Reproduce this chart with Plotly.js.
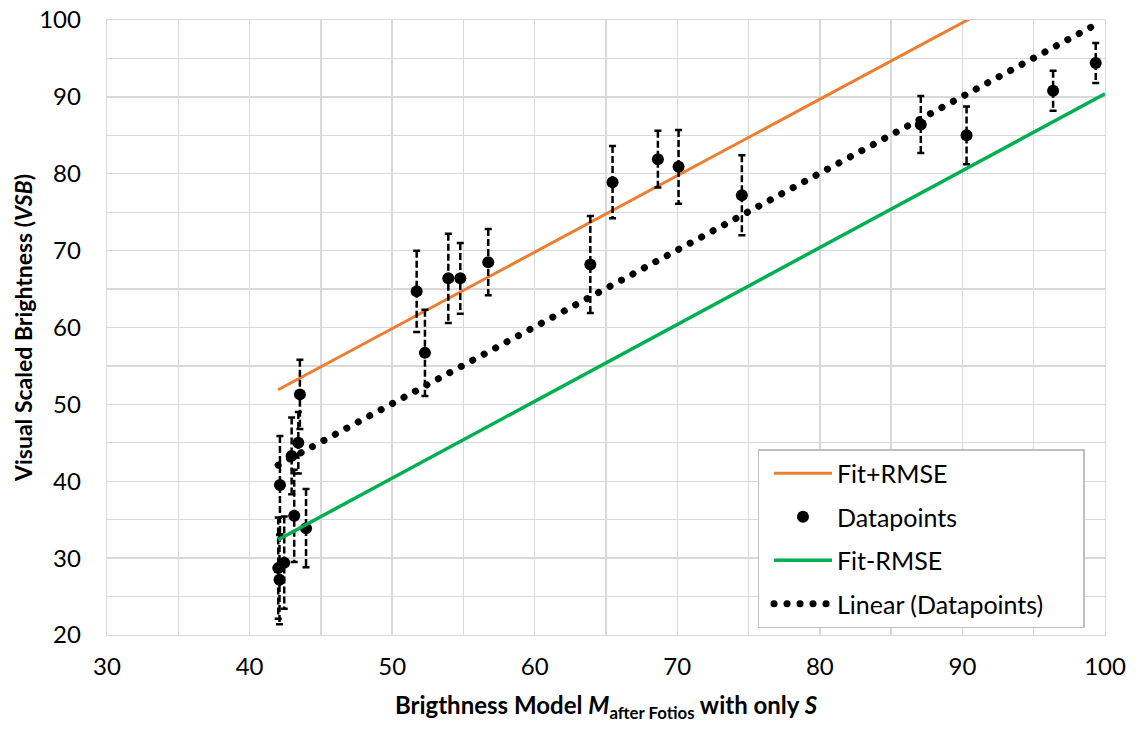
<!DOCTYPE html>
<html><head><meta charset="utf-8">
<script src="https://cdn.plot.ly/plotly-3.0.1.min.js"></script>
<style>html,body{margin:0;padding:0;background:#fff}</style>
</head><body>
<div id="chart" style="width:1141px;height:731px"></div>
<script>
// Datapoints (x, VSB, error half-length)
const dataX   = [42.01, 42.10, 42.43, 42.13, 42.95, 43.13, 43.42, 43.53, 43.96, 51.72, 52.30, 53.94, 54.78, 56.74, 63.90, 65.46, 68.64, 70.09, 74.53, 87.08, 90.29, 96.36, 99.35];
const dataY   = [28.7, 27.2, 29.4, 39.5, 43.3, 35.5, 45.0, 51.3, 33.9, 64.7, 56.7, 66.4, 66.4, 68.5, 68.2, 78.9, 81.9, 80.9, 77.2, 86.4, 85.0, 90.8, 94.4];
const dataErr = [6.6, 5.8, 6.0, 6.4, 5.0, 6.0, 4.0, 4.5, 5.1, 5.3, 5.6, 5.8, 4.6, 4.3, 6.3, 4.7, 3.7, 4.8, 5.2, 3.7, 3.75, 2.6, 2.6];

// Fit lines
const fitPlusX  = [42.0, 100];
const fitPlusY  = [51.9, 109.6];
const fitMinusX = [42.0, 100];
const fitMinusY = [32.4, 90.4];
const trendX    = [42.0, 99.35];
const trendY    = [42.1, 99.4];

const names = ['Fit+RMSE', 'Datapoints', 'Fit-RMSE', 'Linear (Datapoints)'];
const xTicks = [30, 40, 50, 60, 70, 80, 90, 100];
const yTicks = [20, 30, 40, 50, 60, 70, 80, 90, 100];

const FONT = 'Lato, "Open Sans", sans-serif';

const traces = [
  {x: fitPlusX, y: fitPlusY, name: names[0], legendgroup: 'a', mode: 'lines',
   line: {color: '#ED7D31', width: 3}, hoverinfo: 'skip'},
  {x: dataX, y: dataY, name: names[1], legendgroup: 'b', mode: 'markers',
   marker: {color: '#000', size: 12},
   error_y: {type: 'data', array: dataErr, visible: true, color: '#000', thickness: 2.5, width: 3.5}},
  {x: fitMinusX, y: fitMinusY, name: names[2], legendgroup: 'c', mode: 'lines',
   line: {color: '#00B050', width: 3.5}, hoverinfo: 'skip'},
  {x: trendX, y: trendY, name: names[3], legendgroup: 'd', mode: 'lines',
   line: {color: '#000', width: 7, dash: '0.1px,12.9px'}, hoverinfo: 'skip'}
];

const gridColor = '#d9d9d9';
const layout = {
  width: 1141, height: 731,
  margin: {l: 107, r: 36, t: 20, b: 96},
  paper_bgcolor: '#fff', plot_bgcolor: '#fff',
  font: {family: FONT, color: '#000', size: 22},
  showlegend: true,
  legend: {
    x: 0.662, y: 0.302, xanchor: 'left', yanchor: 'top',
    bgcolor: '#fff', bordercolor: '#bfbfbf', borderwidth: 1.3,
    font: {family: FONT, size: 25, color: '#000'},
    traceorder: 'grouped', tracegroupgap: 8, itemwidth: 58
  },
  xaxis: {
    range: [30, 100], tickvals: xTicks, ticktext: xTicks.map(String),
    showgrid: true, gridcolor: gridColor, gridwidth: 1.3,
    minor: {dtick: 5, tick0: 0, showgrid: true, gridcolor: gridColor, gridwidth: 1.3},
    showline: true, linecolor: gridColor, linewidth: 1.3, mirror: true,
    zeroline: false, ticks: 'outside', ticklen: 10, tickcolor: 'rgba(0,0,0,0)',
    tickfont: {family: FONT, size: 24, color: '#000'},
    title: {text: '<b>Brigthness Model <i>M</i><sub>after Fotios</sub> with only <i>S</i></b>',
            font: {family: FONT, size: 24, color: '#000'}, standoff: 18}
  },
  yaxis: {
    range: [20, 100], tickvals: yTicks, ticktext: yTicks.map(String),
    showgrid: true, gridcolor: gridColor, gridwidth: 1.3,
    minor: {dtick: 5, tick0: 0, showgrid: true, gridcolor: gridColor, gridwidth: 1.3},
    showline: true, linecolor: gridColor, linewidth: 1.3, mirror: true,
    zeroline: false, ticks: 'outside', ticklen: 20, tickcolor: 'rgba(0,0,0,0)',
    tickfont: {family: FONT, size: 24, color: '#000'},
    title: {text: '<b>Visual Scaled Brightness (<i>VSB</i>)</b>',
            font: {family: FONT, size: 23, color: '#000'}, standoff: 0}
  }
};

Plotly.newPlot('chart', traces, layout, {staticPlot: true, displayModeBar: false}).then(gd => {
  gd.querySelectorAll('.errorbar path.yerror').forEach(p => {
    p.style.strokeDasharray = '7,3';
  });
  const tr = gd.querySelectorAll('.scatterlayer .trace');
  if (tr[3]) tr[3].querySelectorAll('path.js-line').forEach(p => { p.style.strokeLinecap = 'round'; });
  const lg = gd.querySelectorAll('.legend .traces');
  lg.forEach(t => {
    const txt = t.querySelector('text');
    if (txt && txt.textContent === names[3]) {
      t.querySelectorAll('.legendlines path').forEach(p => { p.style.strokeLinecap = 'round'; });
    }
  });
  // widen the legend frame to match the reference box
  const bg = gd.querySelector('.legend rect.bg');
  if (bg) {
    const bx = parseFloat(bg.getAttribute('x')) || 0;
    const bw = parseFloat(bg.getAttribute('width')) || 0;
    bg.setAttribute('x', bx - 10);
    bg.setAttribute('width', bw + 10 + 35);
  }
});
</script>
</body></html>
